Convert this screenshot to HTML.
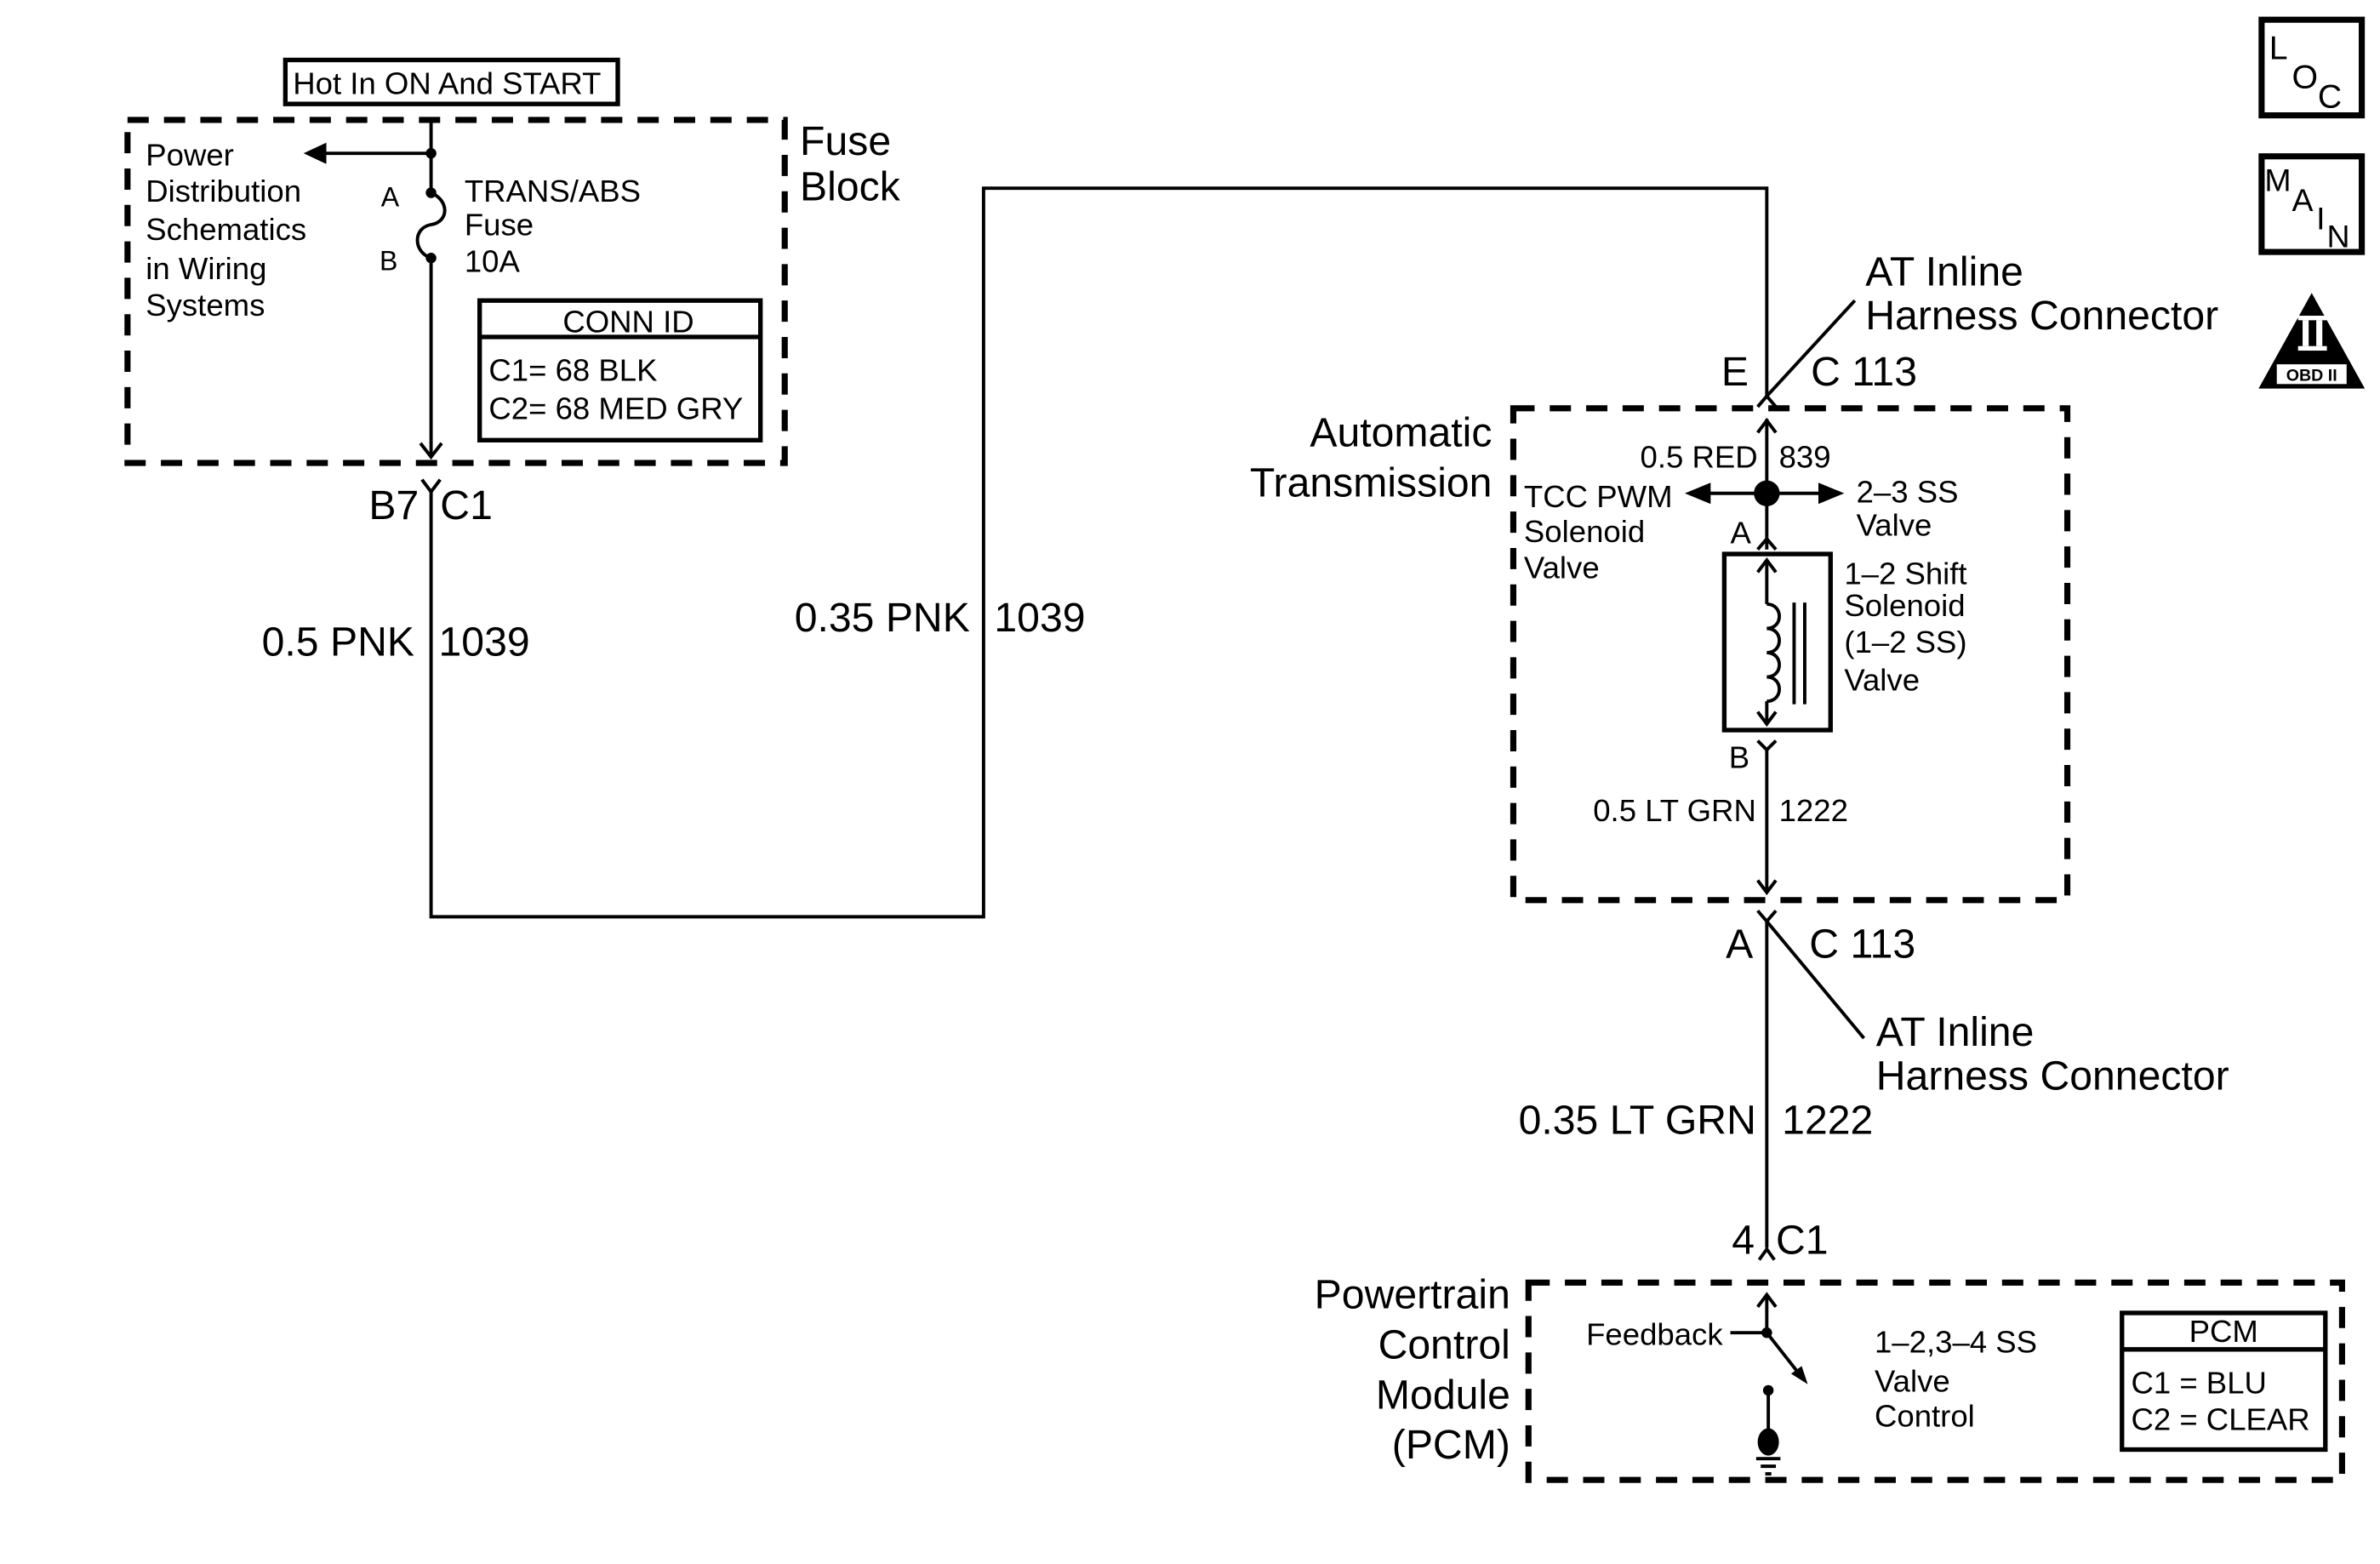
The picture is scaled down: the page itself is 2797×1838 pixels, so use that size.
<!DOCTYPE html>
<html><head><meta charset="utf-8"><style>html,body{margin:0;padding:0;background:#fff}svg{display:block}</style></head>
<body>
<svg xmlns="http://www.w3.org/2000/svg" width="2797" height="1838" viewBox="0 0 1568 1030.4" preserveAspectRatio="none" font-family="Liberation Sans, sans-serif" fill="#000">
<g fill="none" stroke="#000" stroke-width="2.2">
<rect x="188" y="39.5" width="219" height="29" stroke-width="3"/>
<rect x="84" y="79" width="433" height="226" stroke-width="4" stroke-dasharray="14 10"/>
<line x1="284" y1="79" x2="284" y2="127"/>
<line x1="284" y1="101" x2="212" y2="101"/>
<path d="M284 127 C296 132 296 146 284 148 C272 150 272 166 284 170"/>
<line x1="284" y1="170" x2="284" y2="300"/>
<polyline points="277,292 284,301 291,292"/>
<rect x="316" y="198" width="185" height="92" stroke-width="3"/>
<line x1="316" y1="222" x2="501" y2="222" stroke-width="3"/>
<polyline points="278,316 284,324 290,316"/>
<path d="M284 324 V604 H648 V124 H1164 V262"/>
<polyline points="1158,268 1164,261 1170,268"/>
<line x1="1164" y1="261" x2="1222" y2="198"/>
<rect x="997" y="269" width="365" height="324" stroke-width="4" stroke-dasharray="14 10"/>
<line x1="1164" y1="276" x2="1164" y2="362"/>
<polyline points="1158,285 1164,277 1170,285"/>
<line x1="1164" y1="325" x2="1125" y2="325"/>
<line x1="1164" y1="325" x2="1200" y2="325"/>
<polyline points="1158,362 1164,355 1170,362"/>
<rect x="1136" y="365" width="70" height="116" stroke-width="3"/>
<line x1="1164" y1="369" x2="1164" y2="398"/>
<polyline points="1158,377 1164,369 1170,377"/>
<path d="M1164 398 c11 0 11 16 0 16 c11 0 11 16 0 16 c11 0 11 16 0 16 c11 0 11 16 0 16"/>
<line x1="1164" y1="462" x2="1164" y2="477"/>
<polyline points="1158,469 1164,477 1170,469"/>
<line x1="1182" y1="397" x2="1182" y2="464"/>
<line x1="1189" y1="397" x2="1189" y2="464"/>
<polyline points="1158,488 1164,494 1170,488"/>
<line x1="1164" y1="494" x2="1164" y2="588"/>
<polyline points="1158,580 1164,588 1170,580"/>
<polyline points="1158,600 1164,607 1170,600"/>
<line x1="1164" y1="607" x2="1164" y2="822"/>
<line x1="1164" y1="607" x2="1228" y2="684"/>
<polyline points="1159,830 1164,823 1169,830"/>
<rect x="1007" y="845" width="536" height="130" stroke-width="4" stroke-dasharray="14 10"/>
<line x1="1164" y1="853" x2="1164" y2="878"/>
<polyline points="1158,861 1164,853 1170,861"/>
<line x1="1140" y1="878" x2="1164" y2="878"/>
<line x1="1164" y1="878" x2="1186" y2="906"/>
<line x1="1165" y1="916" x2="1165" y2="945"/>
<line x1="1157" y1="961" x2="1173" y2="961"/>
<line x1="1160" y1="966" x2="1170" y2="966"/>
<line x1="1163" y1="971" x2="1167" y2="971"/>
<rect x="1398" y="865" width="134" height="90" stroke-width="3"/>
<line x1="1398" y1="889" x2="1532" y2="889" stroke-width="3"/>
<rect x="1490" y="13" width="66" height="63" stroke-width="4"/>
<rect x="1490" y="103" width="66" height="63" stroke-width="4"/>
</g>
<circle cx="284" cy="101" r="3.5"/>
<circle cx="284" cy="127" r="3.5"/>
<circle cx="284" cy="170" r="3.5"/>
<polygon points="200,101 215,94 215,108"/>
<circle cx="1164" cy="325" r="8.5"/>
<polygon points="1110,325 1127,318 1127,332"/>
<polygon points="1215,325 1198,318 1198,332"/>
<circle cx="1164" cy="878" r="3.5"/>
<polygon points="1191,912 1180,905 1187,900"/>
<circle cx="1165" cy="916" r="3.5"/>
<ellipse cx="1165" cy="950" rx="7" ry="9"/>
<polygon points="1523,193 1488,256 1558,256"/>
<rect x="1500" y="240" width="46" height="13" fill="#fff"/>
<rect x="1514" y="208" width="19" height="3" fill="#fff"/>
<rect x="1514" y="228" width="19" height="3" fill="#fff"/>
<rect x="1517" y="211" width="4" height="17" fill="#fff"/>
<rect x="1526" y="211" width="4" height="17" fill="#fff"/>
<text x="1523" y="251" font-size="11" font-weight="bold" text-anchor="middle">OBD II</text>
<g font-size="20.5">
<text x="193" y="62">Hot In ON And START</text>
<text x="96" y="109">Power</text>
<text x="96" y="133">Distribution</text>
<text x="96" y="158">Schematics</text>
<text x="96" y="184">in Wiring</text>
<text x="96" y="208">Systems</text>
<text x="251" y="136" font-size="18">A</text>
<text x="250" y="178" font-size="18">B</text>
<text x="306" y="133">TRANS/ABS</text>
<text x="306" y="155">Fuse</text>
<text x="306" y="179">10A</text>
<text x="414" y="219" text-anchor="middle">CONN ID</text>
<text x="322" y="251">C1=  68 BLK</text>
<text x="322" y="276">C2=  68 MED GRY</text>
<text x="1158" y="308" text-anchor="end">0.5 RED</text>
<text x="1172" y="308">839</text>
<text x="1004" y="334">TCC PWM</text>
<text x="1004" y="357">Solenoid</text>
<text x="1004" y="381">Valve</text>
<text x="1223" y="331">2–3 SS</text>
<text x="1223" y="353">Valve</text>
<text x="1140" y="358">A</text>
<text x="1215" y="385">1–2 Shift</text>
<text x="1215" y="406">Solenoid</text>
<text x="1215" y="430">(1–2 SS)</text>
<text x="1215" y="455">Valve</text>
<text x="1139" y="506">B</text>
<text x="1157" y="541" text-anchor="end">0.5 LT GRN</text>
<text x="1172" y="541">1222</text>
<text x="1135" y="886" text-anchor="end">Feedback</text>
<text x="1235" y="891">1–2,3–4 SS</text>
<text x="1235" y="917">Valve</text>
<text x="1235" y="940">Control</text>
<text x="1465" y="884" text-anchor="middle">PCM</text>
<text x="1404" y="918">C1 = BLU</text>
<text x="1404" y="942">C2 = CLEAR</text>
<text x="1495" y="39" font-size="22">L</text>
<text x="1510" y="58" font-size="22">O</text>
<text x="1527" y="71" font-size="22">C</text>
<text x="1492" y="126" font-size="21">M</text>
<text x="1510" y="139" font-size="21">A</text>
<text x="1526" y="151" font-size="21">I</text>
<text x="1533" y="163" font-size="21">N</text>
</g>
<g font-size="27">
<text x="527" y="102">Fuse</text>
<text x="527" y="132">Block</text>
<text x="276" y="342" text-anchor="end">B7</text>
<text x="290" y="342">C1</text>
<text x="273" y="432" text-anchor="end">0.5 PNK</text>
<text x="289" y="432">1039</text>
<text x="639" y="416" text-anchor="end">0.35 PNK</text>
<text x="655" y="416">1039</text>
<text x="1229" y="188">AT Inline</text>
<text x="1229" y="217">Harness Connector</text>
<text x="1152" y="254" text-anchor="end">E</text>
<text x="1193" y="254">C 113</text>
<text x="983" y="294" text-anchor="end">Automatic</text>
<text x="983" y="327" text-anchor="end">Transmission</text>
<text x="1155" y="631" text-anchor="end">A</text>
<text x="1192" y="631">C 113</text>
<text x="1236" y="689">AT Inline</text>
<text x="1236" y="718">Harness Connector</text>
<text x="1157" y="747" text-anchor="end">0.35 LT GRN</text>
<text x="1174" y="747">1222</text>
<text x="1156" y="826" text-anchor="end">4</text>
<text x="1170" y="826">C1</text>
<text x="995" y="862" text-anchor="end">Powertrain</text>
<text x="995" y="895" text-anchor="end">Control</text>
<text x="995" y="928" text-anchor="end">Module</text>
<text x="995" y="961" text-anchor="end">(PCM)</text>
</g>
</svg>
</body></html>
